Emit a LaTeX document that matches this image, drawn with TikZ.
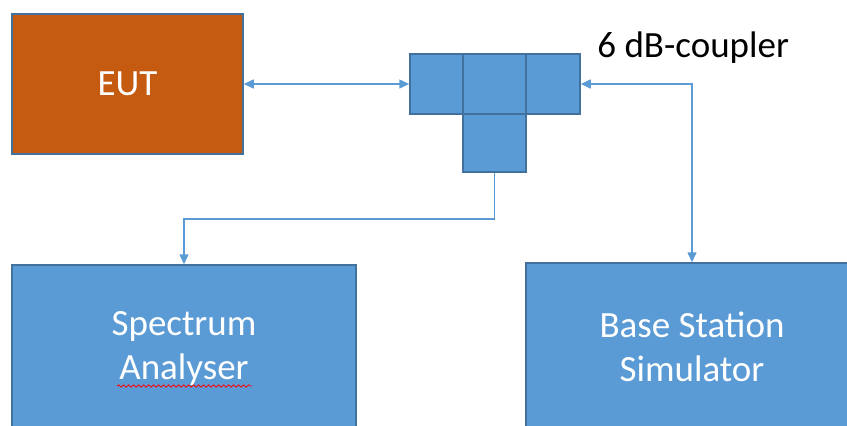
\documentclass[tikz,border=0pt]{standalone}
\usepackage{fontspec}
\setmainfont{Carlito}
\usetikzlibrary{arrows.meta,decorations.pathmorphing}
\definecolor{eutorange}{HTML}{C55A11}
\definecolor{boxblue}{HTML}{5B9BD5}
\definecolor{edgeblue}{HTML}{41719C}

\begin{document}
\begin{tikzpicture}[x=0.5pt,y=-0.5pt,
    block/.style={draw=edgeblue,line width=0.75pt,fill=boxblue,text=white,
      align=center,inner sep=0pt,font=\fontsize{18.5}{22}\selectfont},
    cell/.style={draw=edgeblue,line width=0.75pt,fill=boxblue,inner sep=0pt},
    link/.style={draw=boxblue,line width=0.75pt,>={Triangle[length=5pt,width=4.5pt]}}]

        % Frame of the picture
        \path[use as bounding box,clip] (0,0) rectangle (847,425);

        % Equipment under test
        \node[block,fill=eutorange,minimum width=115.5pt,minimum height=70pt] (eut) at (127.5,84) {EUT};

        % The 6 dB coupler, drawn as four cells
        \node[cell,minimum width=26.5pt,minimum height=30pt] (cl) at (436.5,84) {};
        \node[cell,minimum width=31.5pt,minimum height=30pt] (cm) at (494.5,84) {};
        \node[cell,minimum width=27pt,minimum height=30pt] (cr) at (553,84) {};
        \node[cell,minimum width=31.5pt,minimum height=29pt] (cb) at (494.5,143) {};
        \node[anchor=base west,inner sep=0pt,font=\fontsize{18.5}{22}\selectfont] (cplabel) at (597,57) {6 dB-coupler};

        % Instruments (cut by the lower edge)
        \node[block,minimum width=172pt,minimum height=83pt] (sa) at (184,348) {Spectrum\\Analyser};
        \node[block,minimum width=166pt,minimum height=84pt] (bss) at (692,347) {Base Station\\Simulator};

        % Spell-check mark under the second line
        \draw[red,line width=0.4pt,decorate,decoration={snake,amplitude=0.6pt,segment length=2.5pt}] (117,386) -- (252,386);

        % Connections
        \draw[link,<->] (eut.east) -- (cl.west);
        \draw[link,->] (cb.south) -- ++(0,46) -| (sa.north);
        \draw[link,<->] (cr.east) -| (bss.north);
\end{tikzpicture}
\end{document}
